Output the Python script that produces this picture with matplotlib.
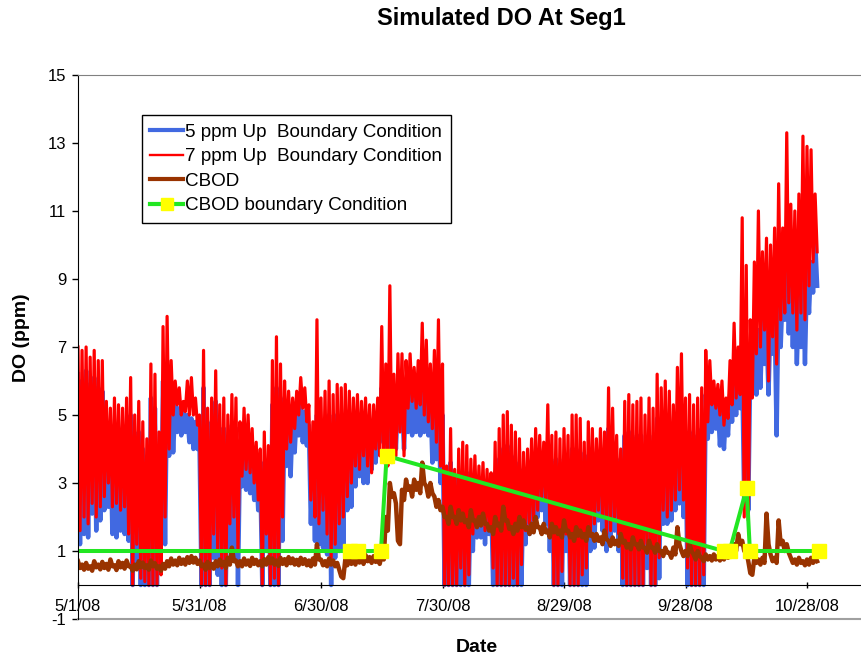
import numpy as np
import matplotlib
matplotlib.use('Agg')
import matplotlib.pyplot as plt
from matplotlib.lines import Line2D

plt.rcParams['font.family'] = ['Liberation Sans', 'DejaVu Sans']
plt.rcParams['axes.unicode_minus'] = False

# days since 5/1/08, daily readings (high / low of the diurnal swing)
days = np.arange(183)

red_high = [
    7.0, 6.9, 7.0, 6.7, 6.9, 6.6, 6.6, 5.4, 5.2, 5.5,
    5.3, 5.2, 5.5, 6.1, 5.0, 5.4, 4.8, 4.3, 6.5, 6.2,
    4.5, 7.6, 7.9, 6.6, 6.0, 5.8, 5.4, 6.0, 6.1, 5.5,
    5.0, 6.9, 5.2, 5.5, 6.3, 5.3, 5.5, 5.0, 5.6, 5.5,
    4.8, 5.2, 5.0, 4.6, 4.2, 4.0, 4.5, 4.1, 6.6, 7.3,
    6.5, 6.0, 5.7, 5.5, 5.7, 6.1, 5.8, 5.3, 4.8, 7.8,
    5.5, 5.7, 6.0, 5.6, 5.9, 5.8, 5.9, 5.7, 5.5, 5.6,
    5.4, 5.5, 5.3, 5.3, 5.5, 7.6, 6.5, 8.8, 6.2, 6.8,
    6.8, 6.6, 6.8, 6.4, 6.6, 7.7, 7.2, 6.5, 6.9, 7.8,
    6.5, 3.5, 4.6, 3.4, 4.0, 4.2, 4.1, 3.7, 3.8, 3.5,
    3.6, 3.4, 3.3, 4.2, 4.6, 5.0, 5.1, 4.7, 4.5, 4.3,
    3.9, 4.0, 4.3, 4.6, 4.4, 4.2, 5.3, 4.4, 4.5, 4.3,
    4.6, 4.4, 5.0, 5.0, 4.9, 4.2, 4.8, 4.6, 4.3, 4.6,
    4.5, 5.8, 5.2, 4.4, 4.0, 5.4, 5.6, 5.3, 5.4, 5.5,
    5.0, 5.5, 5.2, 6.2, 5.8, 6.0, 5.7, 5.3, 6.4, 6.8,
    5.5, 5.6, 5.3, 5.5, 5.8, 6.9, 6.6, 6.0, 5.9, 6.0,
    5.5, 6.6, 7.7, 7.0, 10.8, 9.4, 7.8, 9.5, 11.0, 9.8,
    10.2, 10.0, 10.5, 11.8, 10.5, 13.3, 11.2, 11.0, 11.5, 13.2,
    12.9, 12.8, 11.5,
]
red_low = [
    1.6, 2.0, 1.8, 2.4, 2.0, 2.3, 2.6, 3.0, 2.3, 2.4,
    2.2, 2.3, 1.5, 0.0, 1.2, 0.2, 0.1, 0.0, 0.0, 0.0,
    0.3, 2.0, 4.0, 5.0, 5.3, 5.0, 5.1, 5.0, 5.0, 4.7,
    0.0, 0.0, 0.0, 1.5, 1.0, 0.5, 0.0, 1.8, 2.0, 1.0,
    3.2, 3.4, 3.3, 3.0, 2.5, 0.0, 1.5, 0.0, 0.2, 0.0,
    2.0, 4.0, 4.2, 4.6, 5.0, 5.2, 4.8, 2.5, 2.0, 1.8,
    2.2, 1.5, 0.8, 1.2, 1.8, 2.0, 2.6, 3.0, 3.5, 3.4,
    3.8, 3.5, 3.3, 4.0, 3.8, 3.6, 3.5, 3.6, 3.8, 4.5,
    3.8, 5.2, 5.4, 5.2, 5.3, 5.0, 4.8, 4.6, 4.2, 3.5,
    0.0, 0.0, 0.0, 0.0, 0.5, 0.0, 0.3, 1.5, 1.7, 1.8,
    1.6, 1.7, 0.5, 0.0, 0.0, 0.0, 0.0, 0.2, 0.0, 0.6,
    1.6, 1.8, 1.9, 2.2, 2.6, 2.5, 1.6, 0.0, 0.0, 0.4,
    1.5, 0.0, 0.0, 0.0, 0.3, 0.5, 1.5, 1.8, 2.2, 2.0,
    1.5, 1.6, 2.0, 1.5, 0.2, 0.0, 0.0, 0.0, 0.0, 0.0,
    1.2, 0.0, 0.0, 0.8, 2.2, 2.0, 2.2, 2.5, 2.8, 2.5,
    0.5, 0.0, 0.0, 0.0, 0.3, 4.8, 5.3, 5.2, 5.0, 4.7,
    4.9, 5.3, 5.5, 5.6, 2.0, 1.9, 5.5, 6.8, 7.0, 7.5,
    6.0, 7.3, 6.5, 7.8, 8.0, 8.3, 8.0, 7.5, 8.0, 7.8,
    8.8, 9.5, 9.8,
]
blue_high = [
    6.2, 6.0, 6.3, 5.9, 6.1, 5.8, 5.7, 4.8, 4.3, 4.5,
    4.4, 4.3, 4.6, 5.0, 4.2, 4.5, 4.0, 3.5, 5.5, 5.2,
    3.8, 6.0, 6.0, 5.6, 5.3, 5.2, 5.1, 5.0, 4.9, 4.8,
    4.2, 5.8, 4.4, 4.8, 5.4, 4.6, 4.6, 4.3, 4.7, 4.6,
    4.0, 3.9, 3.8, 3.6, 3.4, 3.3, 3.6, 3.5, 5.3, 5.8,
    5.5, 5.2, 5.0, 5.0, 5.1, 5.3, 5.1, 4.7, 4.2, 5.0,
    4.6, 4.8, 5.0, 4.6, 5.0, 4.9, 4.9, 4.8, 4.8, 4.7,
    4.6, 4.6, 4.5, 4.7, 4.9, 5.8, 5.5, 6.0, 5.5, 5.5,
    5.4, 5.6, 5.7, 5.6, 5.5, 5.7, 5.8, 5.7, 5.6, 5.4,
    5.0, 2.8, 3.6, 2.8, 3.2, 3.3, 3.3, 3.0, 3.1, 2.9,
    2.9, 2.8, 2.7, 3.3, 3.7, 4.0, 4.1, 3.8, 3.6, 3.4,
    3.2, 3.3, 3.5, 3.7, 3.6, 3.5, 4.2, 3.6, 3.7, 3.5,
    3.7, 3.6, 4.0, 4.0, 3.9, 3.5, 3.8, 3.7, 3.5, 3.6,
    3.6, 4.6, 4.2, 3.7, 3.3, 4.4, 4.5, 4.3, 4.4, 4.4,
    4.0, 4.4, 4.2, 4.9, 4.6, 4.8, 4.7, 4.4, 5.0, 5.3,
    4.5, 4.5, 4.3, 4.4, 4.6, 5.6, 5.8, 5.5, 5.3, 5.2,
    5.2, 5.6, 6.1, 6.2, 6.3, 6.0, 6.6, 7.0, 7.5, 7.8,
    7.6, 8.0, 8.0, 8.8, 8.7, 9.2, 8.8, 8.6, 8.5, 9.0,
    9.3, 9.5, 10.2,
]
blue_low = [
    1.2, 1.5, 1.4, 2.1, 1.6, 1.9, 2.2, 2.3, 1.5, 1.4,
    1.6, 1.5, 1.3, 0.0, 0.6, 0.0, 0.0, 0.0, 0.0, 0.0,
    1.2, 1.2, 3.8, 3.9, 4.5, 4.4, 4.5, 4.2, 4.0, 4.0,
    0.0, 0.0, 0.0, 0.8, 0.3, 0.0, 0.0, 1.0, 0.8, 0.0,
    2.9, 2.8, 2.7, 2.5, 2.2, 0.0, 1.0, 0.0, 0.0, 0.0,
    1.3, 3.5, 3.2, 3.9, 4.4, 4.2, 4.1, 1.8, 1.3, 1.2,
    1.1, 0.9, 0.0, 0.8, 1.0, 1.1, 2.2, 2.3, 2.9, 3.2,
    3.0, 3.0, 3.4, 3.6, 4.2, 4.5, 3.7, 3.8, 4.0, 4.6,
    4.0, 4.5, 4.4, 4.5, 4.4, 4.5, 4.4, 3.6, 3.7, 3.0,
    0.0, 0.0, 0.0, 0.0, 0.0, 0.0, 0.0, 1.0, 1.4, 1.4,
    1.2, 1.5, 0.0, 0.0, 0.0, 0.0, 0.0, 0.0, 0.0, 0.0,
    1.2, 1.5, 1.6, 2.0, 2.2, 1.8, 1.0, 0.0, 0.0, 0.0,
    1.0, 0.0, 0.0, 0.0, 0.0, 0.0, 1.0, 1.1, 1.9, 1.6,
    1.0, 1.2, 1.6, 1.0, 0.0, 0.0, 0.0, 0.0, 0.0, 0.0,
    0.5, 0.0, 0.0, 0.2, 1.8, 1.8, 1.9, 2.2, 2.4, 2.0,
    0.0, 0.0, 0.0, 0.0, 0.0, 4.3, 4.5, 4.6, 4.1, 4.0,
    4.4, 4.8, 5.0, 5.2, 2.4, 2.2, 6.0, 5.6, 5.8, 6.5,
    5.6, 6.8, 4.4, 7.0, 7.8, 7.4, 7.0, 6.5, 7.0, 6.5,
    8.0, 8.6, 8.8,
]
cbod_high = [
    0.70, 0.60, 0.65, 0.55, 0.70, 0.60, 0.68, 0.62, 0.75, 0.58,
    0.70, 0.65, 0.72, 0.55, 0.60, 0.70, 0.66, 0.58, 0.72, 0.64,
    0.55, 0.62, 0.70, 0.78, 0.72, 0.80, 0.75, 0.82, 0.85, 0.80,
    0.72, 0.60, 0.68, 0.62, 0.70, 0.75, 0.68, 0.80, 1.10, 0.72,
    0.70, 0.78, 0.72, 0.80, 0.74, 0.70, 0.76, 0.82, 0.78, 0.72,
    0.80, 0.76, 0.82, 0.78, 0.74, 0.80, 0.76, 0.72, 0.78, 1.20,
    0.75, 0.70, 0.78, 0.72, 0.65, 0.25, 0.75, 0.80, 0.78, 0.85,
    0.80, 0.88, 0.82, 0.85, 0.80, 0.90, 2.00, 3.00, 2.70, 1.30,
    2.80, 3.10, 2.90, 3.10, 3.00, 3.60, 2.90, 3.00, 2.60, 2.50,
    2.30, 2.00, 2.30, 2.00, 2.20, 2.10, 1.90, 2.20, 1.90, 2.00,
    2.10, 1.80, 1.70, 2.00, 1.80, 2.30, 1.90, 1.70, 1.80, 2.00,
    1.90, 1.70, 1.80, 2.00, 1.70, 1.80, 1.60, 1.80, 1.70, 1.60,
    1.90, 1.60, 1.50, 1.70, 1.60, 1.50, 1.70, 1.50, 1.50, 1.40,
    1.60, 1.30, 1.40, 1.30, 1.50, 1.30, 1.20, 1.40, 1.20, 1.30,
    1.10, 1.30, 1.10, 1.20, 1.00, 1.10, 0.95, 1.10, 1.70, 1.00,
    1.00, 1.20, 0.90, 1.00, 0.80, 0.90, 0.85, 0.90, 0.85, 0.90,
    0.95, 1.00, 1.20, 1.50, 1.30, 1.00, 0.35, 0.80, 0.75, 0.80,
    2.10, 0.90, 0.80, 1.90, 1.30, 1.20, 0.80, 0.75, 0.80, 0.70,
    0.75, 0.80, 0.85,
]
cbod_low = [
    0.50, 0.45, 0.48, 0.42, 0.52, 0.46, 0.50, 0.45, 0.55, 0.44,
    0.52, 0.48, 0.55, 0.42, 0.46, 0.52, 0.50, 0.45, 0.55, 0.48,
    0.42, 0.48, 0.55, 0.60, 0.58, 0.62, 0.60, 0.65, 0.66, 0.62,
    0.55, 0.45, 0.50, 0.48, 0.55, 0.58, 0.50, 0.60, 0.70, 0.55,
    0.55, 0.60, 0.56, 0.62, 0.58, 0.55, 0.60, 0.64, 0.60, 0.56,
    0.62, 0.58, 0.64, 0.60, 0.58, 0.62, 0.58, 0.55, 0.60, 0.75,
    0.58, 0.55, 0.60, 0.55, 0.45, 0.20, 0.58, 0.62, 0.60, 0.66,
    0.62, 0.70, 0.65, 0.68, 0.62, 0.75, 1.60, 2.60, 2.40, 1.20,
    2.50, 2.80, 2.60, 2.80, 2.70, 3.00, 2.60, 2.70, 2.30, 2.20,
    2.00, 1.80, 2.00, 1.80, 1.90, 1.85, 1.70, 1.90, 1.70, 1.75,
    1.80, 1.60, 1.50, 1.75, 1.60, 1.90, 1.65, 1.50, 1.60, 1.70,
    1.65, 1.50, 1.55, 1.70, 1.50, 1.55, 1.40, 1.55, 1.50, 1.40,
    1.60, 1.40, 1.30, 1.45, 1.40, 1.30, 1.45, 1.30, 1.30, 1.20,
    1.35, 1.15, 1.20, 1.15, 1.25, 1.10, 1.05, 1.20, 1.05, 1.10,
    0.95, 1.10, 0.95, 1.00, 0.85, 0.95, 0.80, 0.90, 1.20, 0.85,
    0.85, 1.00, 0.75, 0.85, 0.70, 0.75, 0.72, 0.75, 0.72, 0.75,
    0.80, 0.85, 1.00, 1.20, 1.00, 0.70, 0.30, 0.65, 0.60, 0.65,
    1.20, 0.70, 0.65, 1.20, 1.00, 0.95, 0.65, 0.60, 0.65, 0.58,
    0.60, 0.65, 0.70,
]

# CBOD boundary condition (days since 5/1/08, ppm)
bc_days = [0.0, 67.2, 69.1, 74.8, 76.2, 159.4, 160.9, 165.1, 165.9, 183.0]
bc_vals = [1.0, 1.0, 1.0, 1.0, 3.8, 1.0, 1.0, 2.85, 1.0, 1.0]

tick_days = [0, 30, 60, 90, 120, 150, 180]
tick_labels = ['5/1/08', '5/31/08', '6/30/08', '7/30/08', '8/29/08', '9/28/08', '10/28/08']


def zigzag(hi, lo):
    # high at the start of each day, low half a day later
    x = np.column_stack([days, days + 0.5]).ravel()
    y = np.column_stack([hi, lo]).ravel()
    return x, y


fig = plt.figure(figsize=(8.61, 6.62), dpi=100)
ax = fig.add_axes([78 / 861, 1 - 619 / 662, 783 / 861, 544 / 662])

bx, by = zigzag(blue_high, blue_low)
rx, ry = zigzag(red_high, red_low)
cx, cy = zigzag(cbod_high, cbod_low)
ax.plot(bx, by, color='#4169E1', lw=3.2)
ax.plot(rx, ry, color='#FF0000', lw=2.3)
ax.plot(cx, cy, color='#993300', lw=3.2)
ax.plot(bc_days, bc_vals, color='#22E622', lw=2.9)
ax.plot(bc_days[1:], bc_vals[1:], ls='none', marker='s', ms=10,
        mfc='#FFFF00', mec='#FFFF00')

ax.set_xlim(0, 783 / 4.05)
ax.set_ylim(-1, 15)
ax.set_yticks(np.arange(-1, 16, 2))
ax.set_xticks(tick_days)
ax.set_xticklabels(tick_labels)

ax.spines['right'].set_visible(False)
ax.spines['top'].set_color('#808080')
ax.spines['bottom'].set_position(('data', 0))
ax.spines['bottom'].set_color('black')
ax.spines['left'].set_color('black')
ax.axhline(-1, color='#A0A0A0', lw=1.5, clip_on=False)

ax.tick_params(axis='y', direction='out', length=4.5, width=1, pad=4, labelsize=12)
ax.tick_params(axis='x', direction='inout', length=4, width=1, pad=8, labelsize=12)

handles = [
    Line2D([], [], color='#4169E1', lw=3),
    Line2D([], [], color='#FF0000', lw=1.7),
    Line2D([], [], color='#993300', lw=3),
    Line2D([], [], color='#22E622', lw=3, marker='s', ms=8,
           mfc='#FFFF00', mec='#FFFF00'),
]
labels = ['5 ppm Up  Boundary Condition', '7 ppm Up  Boundary Condition',
          'CBOD', 'CBOD boundary Condition']
leg = ax.legend(handles, labels, loc='upper left', bbox_to_anchor=(0.0813, 0.926),
                borderaxespad=0, fontsize=13.6, handlelength=1.75, handletextpad=0.1,
                labelspacing=0.38, borderpad=0.45, fancybox=False, framealpha=1)
leg.get_frame().set_edgecolor('black')
leg.get_frame().set_linewidth(1)

fig.text(501 / 861, 1 - 18 / 662, 'Simulated DO At Seg1', ha='center', va='center',
         fontsize=17, fontweight='bold')
fig.text(22 / 861, 1 - 338 / 662, 'DO (ppm)', ha='center', va='center',
         rotation=90, fontsize=14, fontweight='bold')
fig.text(477 / 861, 1 - 648 / 662, 'Date', ha='center', va='center',
         fontsize=14, fontweight='bold')

fig.savefig('out.png', dpi=100)
